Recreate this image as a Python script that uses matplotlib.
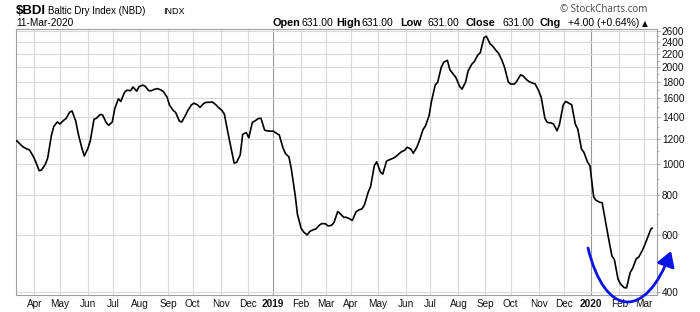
import numpy as np
import pandas as pd
import matplotlib
matplotlib.use("Agg")
import matplotlib.pyplot as plt
from matplotlib.path import Path
from matplotlib.patches import FancyArrowPatch
from matplotlib.transforms import IdentityTransform
from matplotlib.ticker import FixedLocator, NullFormatter

plt.rcParams['font.family'] = ['Liberation Sans', 'DejaVu Sans']

# ---------------- data ----------------
START = '2018-03-12'
END = '2020-03-11'
start_value = 1182
end_value = 631

tue_dates = pd.date_range('2018-03-13', '2020-03-10', freq='W-TUE')
tue_values = [
    1178, 1129, 1107, 1020, 958, 1043, 1309, 1331, 1384, 1462,
    1246, 1059, 1183, 1388, 1422, 1320, 1484, 1566, 1698, 1737,
    1742, 1746, 1691, 1717, 1679, 1525, 1447, 1351, 1467, 1546,
    1501, 1556, 1561, 1501, 1429, 1144, 1011, 1236, 1206, 1361,
    1388, 1268, 1266, 1232, 1079, 961, 695, 614, 616, 627,
    652, 641, 658, 700, 682, 667, 718, 747, 851, 1016,
    930, 1029, 1049, 1089, 1127, 1080, 1181, 1313, 1571, 1797,
    2075, 1966, 1859, 1710, 1949, 2082, 2221, 2499, 2333, 2212,
    1995, 1774, 1812, 1883, 1806, 1776, 1612, 1347, 1333, 1329,
    1566, 1529, 1285, 1087, 987, 770, 757, 593, 504, 423,
    411, 473, 513, 560, 627,
]

fri_dates = pd.date_range('2018-03-16', '2020-03-06', freq='W-FRI')
fri_values = [
    1146, 1113, 1059, 953, 996, 1225, 1352, 1367, 1449, 1361,
    1122, 1118, 1378, 1426, 1346, 1351, 1595, 1670, 1691, 1686,
    1760, 1691, 1710, 1700, 1614, 1468, 1361, 1416, 1528, 1527,
    1543, 1556, 1529, 1468, 1246, 1006, 1067, 1253, 1349, 1386,
    1275, 1265, 1244, 1125, 1051, 804, 630, 601, 624, 645,
    651, 644, 711, 682, 674, 709, 725, 816, 987, 944,
    1020, 1040, 1073, 1104, 1113, 1129, 1280, 1415, 1762, 2002,
    2103, 1902, 1744, 1803, 2045, 2185, 2474, 2367, 2255, 2093,
    1800, 1774, 1894, 1830, 1786, 1687, 1387, 1342, 1268, 1526,
    1544, 1329, 1114, 1014, 790, 760, 655, 517, 438, 412,
    459, 507, 538, 600,
]

y_ticks = [400, 600, 800, 1000, 1200, 1400, 1600, 1800, 2000, 2200, 2400, 2600]
y_minor = [500, 700, 900, 1100, 1300, 1500, 1700, 1900, 2100, 2300, 2500]
month_names = ['Jan', 'Feb', 'Mar', 'Apr', 'May', 'Jun', 'Jul', 'Aug', 'Sep', 'Oct', 'Nov', 'Dec']

# hand-drawn blue swoosh annotation, image pixel coords (Bezier control points)
swoosh = [(588, 248), (605, 318), (646, 320), (671, 251)]

# ---------------- series assembly ----------------
series = pd.concat([
    pd.Series([start_value], index=[pd.Timestamp(START)]),
    pd.Series(tue_values, index=tue_dates),
    pd.Series(fri_values, index=fri_dates),
    pd.Series([end_value], index=[pd.Timestamp(END)]),
]).sort_index()

# ---------------- figure ----------------
W, H = 700, 312
fig = plt.figure(figsize=(W / 100, H / 100), dpi=100)
ax_l, ax_r, ax_t, ax_b = 16, 657, 29, 295
ax = fig.add_axes([ax_l / W, 1 - ax_b / H, (ax_r - ax_l) / W, (ax_b - ax_t) / H])

start64 = np.datetime64(START, 'D')
xd = np.busday_count(start64, series.index.values.astype('datetime64[D]'))

ax.plot(xd, series.values, color='black', lw=1.2, solid_joinstyle='round', zorder=3)

ax.set_yscale('log')
ax.set_ylim(390.6, 2633)
ax.set_xlim(0, 526)

# month ticks on trading-day axis
month_starts = pd.date_range('2018-04-01', '2020-03-01', freq='MS')
first_bd = np.busday_offset(month_starts.values.astype('datetime64[D]'), 0, roll='forward')
tick_x = np.busday_count(start64, first_bd)
tick_lab = [str(m.year) if m.month == 1 else month_names[m.month - 1] for m in month_starts]
ax.xaxis.set_major_locator(FixedLocator(tick_x))
ax.set_xticklabels(tick_lab)
for lab, m in zip(ax.get_xticklabels(), month_starts):
    if m.month == 1:
        lab.set_fontweight('bold')
        lab.set_fontsize(8)
ax.tick_params(axis='x', length=0, pad=3, labelsize=7.2, colors='#111111')

for tx, m in zip(tick_x, month_starts):
    ax.axvline(tx, color='#9a9a9a' if m.month == 1 else '#d9d9d9', lw=0.8, zorder=1)

ax.yaxis.set_major_locator(FixedLocator(y_ticks))
ax.yaxis.set_minor_locator(FixedLocator(y_minor))
ax.yaxis.set_minor_formatter(NullFormatter())
ax.set_yticklabels([str(v) for v in y_ticks])
ax.yaxis.tick_right()
ax.tick_params(axis='y', which='major', length=2, width=0.6, color='#9a9a9a', pad=1.5,
               labelsize=7.2, labelcolor='#111111')
ax.tick_params(axis='y', which='minor', length=1.5, width=0.6, color='#b0b0b0')
for v in y_ticks:
    ax.axhline(v, color='#d9d9d9', lw=0.8, zorder=1)

for s in ax.spines.values():
    s.set_color('#a0a0a0')
    s.set_linewidth(0.8)

# ---------------- header ----------------
def fx(px):
    return px / W

def fy(py):
    return 1 - py / H

fig.text(fx(16), fy(13.5), '$BDI', fontsize=9.5, fontweight='bold', va='baseline', ha='left')
fig.text(fx(48), fy(13.5), 'Baltic Dry Index (NBD)', fontsize=7, va='baseline', ha='left')
fig.text(fx(163), fy(13.5), 'INDX', fontsize=6.5, va='baseline', ha='left')
fig.text(fx(16), fy(26.5), '11-Mar-2020', fontsize=7.3, va='baseline', ha='left')
fig.text(fx(647), fy(12), '\u00a9 StockCharts.com', fontsize=7, va='baseline', ha='right',
         color='#444444', family=['Open Sans', 'DejaVu Sans'])

hdr = [(272.7, 'Open', True), (301.7, '631.00', False), (336.7, 'High', True), (361.7, '631.00', False),
       (400, 'Low', True), (428, '631.00', False), (465, 'Close', True), (503, '631.00', False),
       (540, 'Chg', True), (568, '+4.00 (+0.64%)', False)]
last = None
for px, t, b in hdr:
    last = fig.text(fx(px), fy(26.5), t, fontsize=7.8 if b else 7.5, fontweight='bold' if b else 'normal',
                    va='baseline', ha='left')
fig.canvas.draw()
ext = last.get_window_extent(renderer=fig.canvas.get_renderer())
fig.text(fx(ext.x1 + 2.5), fy(26), '\u25b2', fontsize=5.5, va='baseline', ha='left', family=['DejaVu Sans'])

# ---------------- blue annotation ----------------
verts = [(x, H - y) for x, y in swoosh]
path = Path(verts, [Path.MOVETO, Path.CURVE4, Path.CURVE4, Path.CURVE4])
arrow = FancyArrowPatch(path=path, arrowstyle='-|>,head_length=0.9,head_width=0.55', mutation_scale=10,
                        color='#0a14e6', lw=2.0, transform=IdentityTransform(), zorder=10)
fig.add_artist(arrow)

fig.savefig('out.png', dpi=100)
